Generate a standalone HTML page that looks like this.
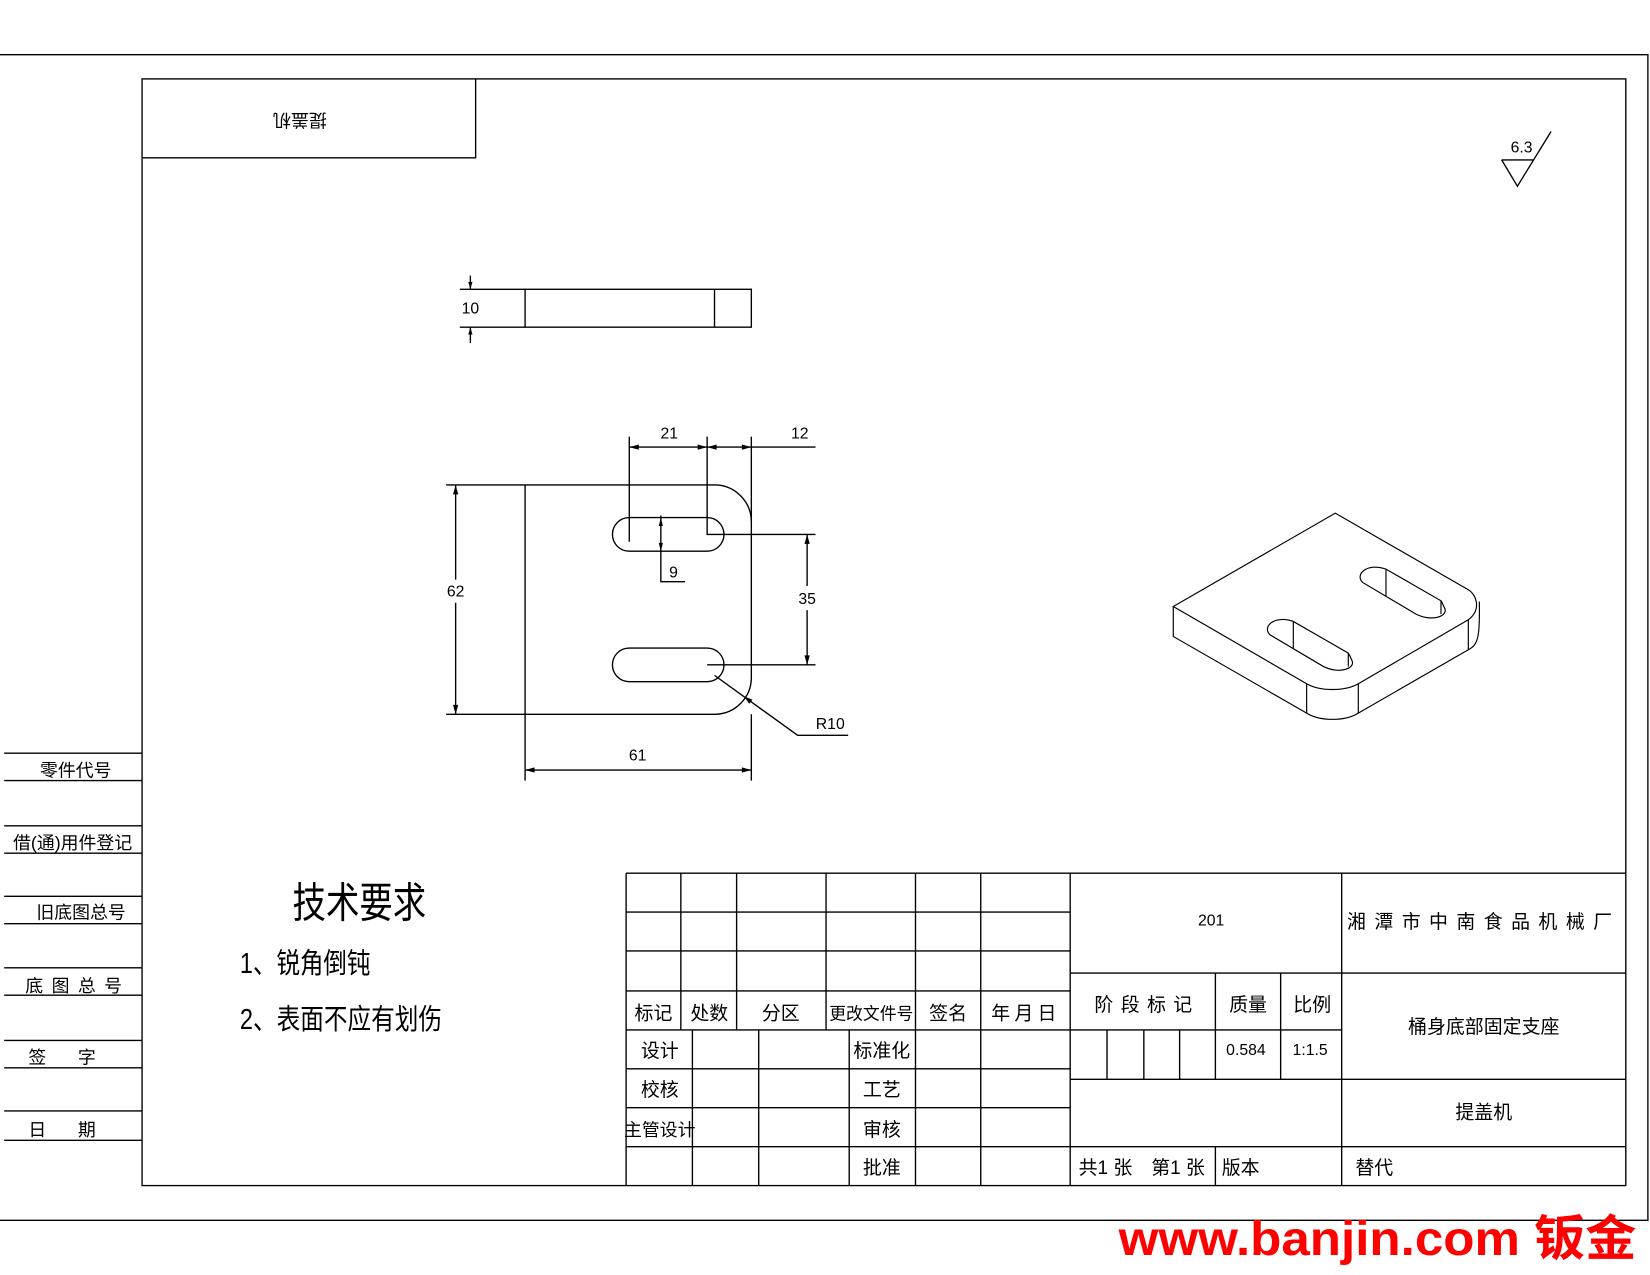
<!DOCTYPE html>
<html><head><meta charset="utf-8"><style>
html,body{margin:0;padding:0;background:#fff;}
svg{display:block;}
text{font-family:"Liberation Sans","Noto Sans CJK SC",sans-serif;fill:#000;}
</style></head><body>
<svg width="1650" height="1275" viewBox="0 0 1568 1212" preserveAspectRatio="none" xmlns="http://www.w3.org/2000/svg">
<rect x="0" y="0" width="1568" height="1212" fill="#fff"/>
<g stroke="#000" stroke-width="1.3" fill="none">
<path d="M0,52 H1566 V1160 H0"/>
<rect x="135" y="75" width="1410" height="1052"/>
<path d="M135,150 H452 V75"/>
<path d="M4,716H135 M4,742H135 M4,785H135 M4,811H135 M4,852H135 M4,878H135 M4,920H135 M4,946H135 M4,989H135 M4,1015H135 M4,1056H135 M4,1084H135"/>
<path d="M595,830 H1545 M595,830 V1127"/>
<path d="M595,867H1017 M595,904H1017 M595,942H1017 M595,979H1017 M595,1016H1017 M595,1053H1017 M595,1090H1017"/>
<path d="M647,830V979 M700,830V979 M785,830V979 M870,830V979 M932,830V1127 M1017,830V1127"/>
<path d="M658,979V1127 M721,979V1127 M807,979V1127 M870,979V1127"/>
<path d="M1017,925H1545 M1017,979H1275 M1017,1026H1545 M1017,1090H1545 M1275,830V1127"/>
<path d="M1155,925V1026 M1217,925V1026 M1052,979V1026 M1087,979V1026 M1121,979V1026 M1155,1090V1127"/>
<path d="M1427,152H1457 M1427,152L1442,177L1474,125"/>
<rect x="499" y="275" width="215" height="36"/>
<path d="M679,275V311 M437,275H499 M437,311H499 M447,262V275 M447,311V326"/>
<path d="M499,461V679 M424,461H679 A35,35 0 0 1 714,496 V644 A35,35 0 0 1 679,679 H424"/>
<path d="M598,492H672 A16,16 0 0 1 672,524 H598 A16,16 0 0 1 598,492Z"/>
<path d="M598,616H672 A16,16 0 0 1 672,648 H598 A16,16 0 0 1 598,616Z"/>
<path d="M433,461V551 M433,573V679"/>
<path d="M598,415V515 M672,415V508H775 M714,415V496 M598,425H775"/>
<path d="M672,632H775 M767,508V557 M767,580V632"/>
<path d="M628,490V553H651"/>
<path d="M679,642L758,699H806"/>
<path d="M499,679V742 M714,679V742 M499,732H714"/>
</g>
<g fill="#000">
<path d="M447,275l-2,-7h4z M447,311l-2,7h4z"/>
<path d="M433,461l-2.5,9h5z M433,679l-2.5,-9h5z"/>
<path d="M598,425l9,-2.5v5z M672,425l-9,-2.5v5z M672,425l9,-2.5v5z M714,425l-9,-2.5v5z"/>
<path d="M767,508l-2.5,9h5z M767,632l-2.5,-9h5z"/>
<path d="M628,492l-2,8h4z M628,524l-2,-8h4z"/>
<path d="M499,732l9,-2.5v5z M714,732l-9,-2.5v5z"/>
<path d="M707,662l8,3l-3,4z"/>
</g>
<g transform="translate(1092.8,456.1) scale(0.3168)" stroke="#000" stroke-width="3.5" fill="none">
<path d="M70,380 L556,100 L955,330 C980,345 995,390 955,420 L625,612 C585,635 510,635 470,612 Z"/>
<path d="M70,380V470 L470,700 C510,725 585,725 625,700 L955,510 C985,495 990,470 988,365 M955,420V510 M470,612V700 M625,612V700"/>
<path d="M430,425 C375,405 335,440 360,465 L520,560 C570,585 620,565 605,540 C600,530 598,523 595,520 L430,425 Z M430,425V508 M595,520V560"/>
<path d="M708,268 C653,248 613,283 638,308 L798,403 C848,428 898,408 883,383 C878,373 876,366 873,363 L708,268 Z M708,268V351 M873,363V403"/>
</g>
<text x="285" y="113" font-size="17" text-anchor="middle" dominant-baseline="middle" transform="rotate(180 285 113)">提盖机</text>
<text x="1446" y="145" font-size="15" text-anchor="middle">6.3</text>
<g font-size="15" text-anchor="middle">
<text x="447" y="298">10</text>
<text x="433" y="567">62</text>
<text x="636" y="417">21</text>
<text x="760" y="417">12</text>
<text x="767" y="574">35</text>
<text x="640" y="549">9</text>
<text x="789" y="693">R10</text>
<text x="606" y="723">61</text>
</g>
<g font-size="17" text-anchor="middle">
<text x="72" y="738">零件代号</text>
<text x="69" y="807">借(通)用件登记</text>
<text x="77" y="873">旧底图总号</text>
<text x="74" y="943" letter-spacing="8">底图总号</text>
<text x="74" y="1011" letter-spacing="30">签字</text>
<text x="74" y="1080" letter-spacing="30">日期</text>
</g>
<text x="278" y="872" font-size="40" textLength="127" lengthAdjust="spacingAndGlyphs">技术要求</text>
<text x="228" y="925" font-size="27" textLength="124" lengthAdjust="spacingAndGlyphs">1、锐角倒钝</text>
<text x="228" y="978" font-size="27" textLength="192" lengthAdjust="spacingAndGlyphs">2、表面不应有划伤</text>
<g font-size="18" text-anchor="middle">
<text x="621" y="969">标记</text>
<text x="674" y="969">处数</text>
<text x="742" y="969">分区</text>
<text x="828" y="969" font-size="16">更改文件号</text>
<text x="901" y="969">签名</text>
<text x="975" y="969" letter-spacing="4">年月日</text>
<text x="627" y="1005">设计</text>
<text x="627" y="1042">校核</text>
<text x="627" y="1080" font-size="17">主管设计</text>
<text x="838" y="1005">标准化</text>
<text x="838" y="1042">工艺</text>
<text x="838" y="1080">审核</text>
<text x="838" y="1116">批准</text>
<text x="1151" y="880" font-size="15">201</text>
<text x="1410" y="882" letter-spacing="8">湘潭市中南食品机械厂</text>
<text x="1090" y="961" letter-spacing="7">阶段标记</text>
<text x="1186" y="961">质量</text>
<text x="1247" y="961">比例</text>
<text x="1184" y="1003" font-size="15">0.584</text>
<text x="1245" y="1003" font-size="15">1:1.5</text>
<text x="1410" y="982">桶身底部固定支座</text>
<text x="1410" y="1063">提盖机</text>
<text x="1085" y="1116" text-anchor="middle">共1 张　第1 张</text>
<text x="1179" y="1116">版本</text>
<text x="1306" y="1116">替代</text>
</g>
<text x="1063" y="1193" font-size="46" font-weight="bold" fill="#f00" style="fill:#f00" textLength="492" lengthAdjust="spacingAndGlyphs">www.banjin.com 钣金</text>
</svg>
</body></html>
